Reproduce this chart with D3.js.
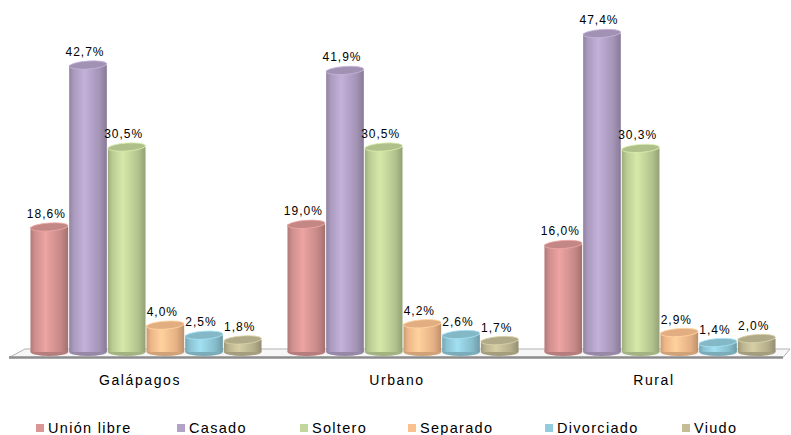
<!DOCTYPE html>
<html lang="es">
<head>
<meta charset="utf-8">
<title>Estado civil</title>
<script src="https://cdn.jsdelivr.net/npm/d3@7"></script>
<style>
  body { margin: 0; background: #fff; }
  text { font-family: "Liberation Sans", Arial, sans-serif; fill: #000; }
</style>
</head>
<body>
<script>
// categories, series and values (percent)
var groups = ["Galápagos", "Urbano", "Rural"];
var series = ["Unión libre", "Casado", "Soltero", "Separado", "Divorciado", "Viudo"];
var colors = ["#d99694", "#b3a2c7", "#c3d69b", "#fac090", "#93cddd", "#c4bd97"];
var values = [
  [18.6, 42.7, 30.5, 4.0, 2.5, 1.8],
  [19.0, 41.9, 30.5, 4.2, 2.6, 1.7],
  [16.0, 47.4, 30.3, 2.9, 1.4, 2.0]
];

var w = 791, h = 435;
var base = 352;   // centre of the bottom ellipses
var ry = 4;

var svg = d3.select("body").append("svg")
  .attr("width", w).attr("height", h);

var x0 = d3.scaleBand().domain(groups)
  .range([17.5, 788.5])
  .paddingInner(0.097).paddingOuter(0.0486);
var x1 = d3.scaleBand().domain(series).range([0, x0.bandwidth()]);
var y = d3.scaleLinear().domain([0, 50]).range([base, base - 50 * 6.72]);

var fmt = function(v) { return d3.format(".1f")(v).replace(".", ",") + "%"; };

// gradients for cylinder bodies
var defs = svg.append("defs");
series.forEach(function(s, i) {
  var c = d3.color(colors[i]);
  var g = defs.append("linearGradient").attr("id", "grad" + i)
    .attr("x1", "0%").attr("x2", "100%").attr("y1", "0%").attr("y2", "0%");
  g.append("stop").attr("offset", "0%").attr("stop-color", c.darker(0.6));
  g.append("stop").attr("offset", "12%").attr("stop-color", c.darker(0.15));
  g.append("stop").attr("offset", "40%").attr("stop-color", c.brighter(0.25));
  g.append("stop").attr("offset", "80%").attr("stop-color", c.darker(0.25));
  g.append("stop").attr("offset", "100%").attr("stop-color", c.darker(0.8));
});

// floor
svg.append("path")
  .attr("d", "M9,357.5 L25,349 L790,349 L783,357.5 Z")
  .attr("fill", "#f7f7f7").attr("stroke", "#b3b3b3").attr("stroke-width", 1);
svg.append("line")
  .attr("x1", 9).attr("x2", 783).attr("y1", 357.5).attr("y2", 357.5)
  .attr("stroke", "#8c8c8c").attr("stroke-width", 2.5);

// cylinders
var data = [];
groups.forEach(function(g, gi) {
  series.forEach(function(s, si) {
    data.push({ group: g, series: s, si: si, value: values[gi][si] });
  });
});

var bars = svg.selectAll("g.bar").data(data).enter().append("g")
  .attr("class", "bar")
  .attr("transform", function(d) { return "translate(" + (x0(d.group) + x1(d.series)) + ",0)"; });

var bw = x1.bandwidth();
var rx = bw / 2 - 0.5;

bars.append("ellipse")
  .attr("cx", bw / 2).attr("cy", base).attr("rx", rx).attr("ry", ry)
  .attr("fill", function(d) { return d3.color(colors[d.si]).darker(0.5); });

bars.append("rect")
  .attr("x", bw / 2 - rx).attr("width", rx * 2)
  .attr("y", function(d) { return y(d.value); })
  .attr("height", function(d) { return base - y(d.value); })
  .attr("fill", function(d) { return "url(#grad" + d.si + ")"; });

bars.append("ellipse")
  .attr("cx", bw / 2).attr("cy", function(d) { return y(d.value); })
  .attr("rx", rx).attr("ry", ry)
  .attr("transform", function(d) { return "rotate(-4," + (bw / 2) + "," + y(d.value) + ")"; })
  .attr("fill", function(d) { return d3.color(colors[d.si]).darker(0.3); })
  .attr("stroke", function(d) { return d3.color(colors[d.si]).brighter(0.3); })
  .attr("stroke-width", 0.8);

bars.append("text")
  .attr("x", bw / 2 - 3)
  .attr("y", function(d) { return y(d.value) - 9; })
  .attr("text-anchor", "middle")
  .style("font-size", "12px")
  .style("letter-spacing", "1px")
  .text(function(d) { return fmt(d.value); });

// category labels
svg.selectAll("text.cat").data(groups).enter().append("text")
  .attr("class", "cat")
  .attr("x", function(d) { return x0(d) + x0.bandwidth() / 2 - 6; })
  .attr("y", 385)
  .attr("text-anchor", "middle")
  .style("font-size", "14px")
  .style("letter-spacing", "1.6px")
  .text(function(d) { return d; });

// legend
var legX = [36, 177, 300, 408, 545, 682];
var leg = svg.selectAll("g.leg").data(series).enter().append("g")
  .attr("class", "leg")
  .attr("transform", function(d, i) { return "translate(" + legX[i] + ",0)"; });
leg.append("rect")
  .attr("x", 0).attr("y", 424).attr("width", 8).attr("height", 8)
  .attr("fill", function(d, i) { return colors[i]; });
leg.append("text")
  .attr("x", 12).attr("y", 433)
  .style("font-size", "14.5px")
  .style("letter-spacing", "1.3px")
  .text(function(d) { return d; });
</script>
</body>
</html>
